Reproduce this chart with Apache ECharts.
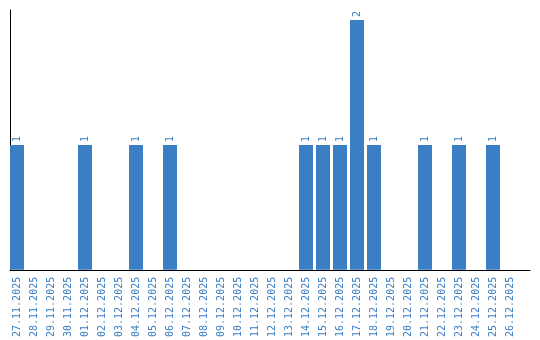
<!DOCTYPE html>
<html>
<head>
<meta charset="utf-8">
<script src="https://cdn.jsdelivr.net/npm/echarts@6/dist/echarts.min.js"></script>
<style>html,body{margin:0;padding:0;background:#fff}#c{width:540px;height:340px}</style>
</head>
<body>
<div id="c"></div>
<script>
var categories = ["27.11.2025","28.11.2025","29.11.2025","30.11.2025","01.12.2025","02.12.2025","03.12.2025","04.12.2025","05.12.2025","06.12.2025","07.12.2025","08.12.2025","09.12.2025","10.12.2025","11.12.2025","12.12.2025","13.12.2025","14.12.2025","15.12.2025","16.12.2025","17.12.2025","18.12.2025","19.12.2025","20.12.2025","21.12.2025","22.12.2025","23.12.2025","24.12.2025","25.12.2025","26.12.2025"];
var counts = [1,0,0,0,1,0,0,1,0,1,0,0,0,0,0,0,0,1,1,1,2,1,0,0,1,0,1,0,1,0];

var blue = '#3a7ec3';
var font = 'DejaVu Sans Mono';
var chart = echarts.init(document.getElementById('c'));
chart.setOption({
  animation: false,
  grid: [
    {left: 8.5, top: 10, width: 510, height: 260},
    {left: 10, top: 10, width: 520, height: 260}
  ],
  xAxis: [{
    type: 'category', data: categories, gridIndex: 0,
    axisLine: {show: false}, axisTick: {show: false},
    axisLabel: {rotate: 90, interval: 0, color: blue, fontFamily: font, fontSize: 10, margin: 7}
  }, {
    type: 'value', gridIndex: 1, min: 0, max: 1,
    axisLine: {show: true, lineStyle: {color: '#000', width: 1}},
    axisTick: {show: false}, axisLabel: {show: false}, splitLine: {show: false}
  }],
  yAxis: [{
    type: 'value', gridIndex: 0, min: 0, max: 2.08, show: false
  }, {
    type: 'value', gridIndex: 1, min: 0, max: 1,
    axisLine: {show: true, lineStyle: {color: '#000', width: 1}},
    axisTick: {show: false}, axisLabel: {show: false}, splitLine: {show: false}
  }],
  series: [{
    type: 'bar', xAxisIndex: 0, yAxisIndex: 0,
    data: counts.map(function(v){ return v === 0 ? null : v; }),
    barWidth: 14,
    itemStyle: {color: blue},
    label: {show: true, position: 'top', rotate: 90, distance: 3, color: blue, fontFamily: font, fontSize: 10, align: 'left', verticalAlign: 'middle'}
  }]
});
</script>
</body>
</html>
